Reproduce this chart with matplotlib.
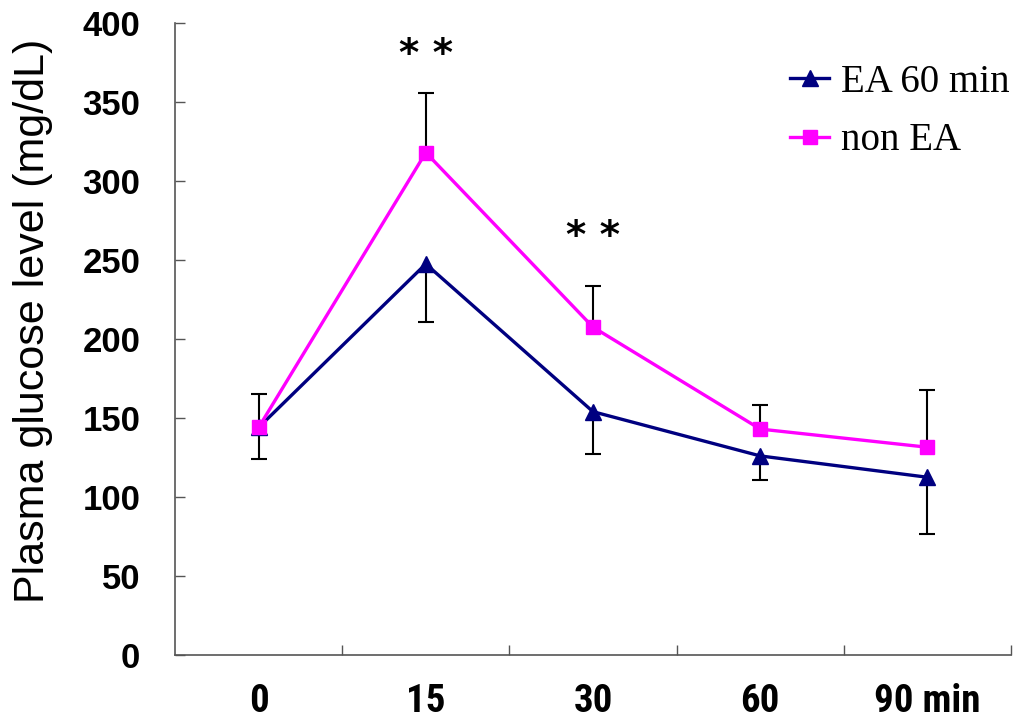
import numpy as np
import matplotlib
matplotlib.use('Agg')
import matplotlib.pyplot as plt
from matplotlib import font_manager

# Data
time_labels = ['0', '15', '30', '60', '90 min']
ea_60 = [144, 247.5, 154, 126, 112.5]
non_ea = [144, 318, 207.5, 143, 131.5]
ea_60_err_down = [20, 36.5, 27, 15, 36]
non_ea_err_up = [21, 37.5, 26, 15, 36.5]
star_idx = [1, 2]
star_gap = [24, 31]
y_ticks = [0, 50, 100, 150, 200, 250, 300, 350, 400]

# pick a narrow bold font for the x labels if one is installed
narrow = 'Liberation Sans'
for name in ['Liberation Sans Narrow', 'Roboto Condensed', 'DejaVu Sans Condensed']:
    try:
        font_manager.findfont(font_manager.FontProperties(family=name, weight='bold'),
                              fallback_to_default=False)
        narrow = name
        break
    except Exception:
        pass

x = np.arange(len(time_labels))

fig = plt.figure(figsize=(10.13, 7.25), dpi=100)
ax = fig.add_axes([175 / 1013, 70 / 725, 836 / 1013, 632 / 725])

# One-sided error bars (up for non EA, down for EA 60 min)
zeros = [0] * len(x)
_, caps, _ = ax.errorbar(x, non_ea, yerr=[zeros, non_ea_err_up], fmt='none',
                         ecolor='black', elinewidth=1.5, capsize=6, capthick=1.5, zorder=2)
caps[0].set_visible(False)
_, caps, _ = ax.errorbar(x, ea_60, yerr=[ea_60_err_down, zeros], fmt='none',
                         ecolor='black', elinewidth=1.5, capsize=6, capthick=1.5, zorder=2)
caps[1].set_visible(False)

ax.plot(x, ea_60, color='#000080', marker='^', markersize=11, linewidth=2.4,
        label='EA 60 min', zorder=3)
ax.plot(x, non_ea, color='#FF00FF', marker='s', markersize=10, linewidth=2.4,
        label='non EA', zorder=4)

# significance stars
for i, gap in zip(star_idx, star_gap):
    ax.text(x[i], non_ea[i] + non_ea_err_up[i] + gap, '* *', ha='center', va='center',
            fontsize=28, color='black', fontweight='bold', family='DejaVu Sans')

ax.set_xlim(-0.5, len(x) - 0.5)
ax.set_ylim(0, 400)
ax.set_yticks(y_ticks)
ax.set_yticklabels([str(v) for v in y_ticks], fontsize=25, fontweight='bold',
                   family=['Liberation Sans', 'DejaVu Sans'])
ax.set_xticks(x)
xfs = 28 if narrow != 'Liberation Sans' else 24
ax.set_xticklabels(time_labels, fontsize=xfs, fontweight='bold',
                   family=[narrow, 'DejaVu Sans'])
ax.set_xticks(list(np.arange(len(x)) + 0.5), minor=True)

ax.tick_params(axis='x', which='major', length=0, pad=20)
ax.tick_params(axis='x', which='minor', direction='in', length=7, width=1, color='#555555')
ax.tick_params(axis='y', direction='in', length=7, width=1, color='#555555', pad=25)

for s in ['top', 'right']:
    ax.spines[s].set_visible(False)
for s in ['left', 'bottom']:
    ax.spines[s].set_color('#555555')
    ax.spines[s].set_linewidth(1.2)

ax.set_ylabel('Plasma glucose level (mg/dL)', fontsize=31,
              family=['Liberation Sans', 'DejaVu Sans'])
ax.yaxis.set_label_coords(-0.146, 0.528)

ax.legend(loc='upper right', bbox_to_anchor=(1.017, 0.96), frameon=False,
          prop={'family': ['Liberation Serif', 'DejaVu Serif'], 'size': 28},
          handlelength=1.0, handletextpad=0.3, labelspacing=0.55, borderaxespad=0.0)

fig.savefig('out.png', dpi=100)
